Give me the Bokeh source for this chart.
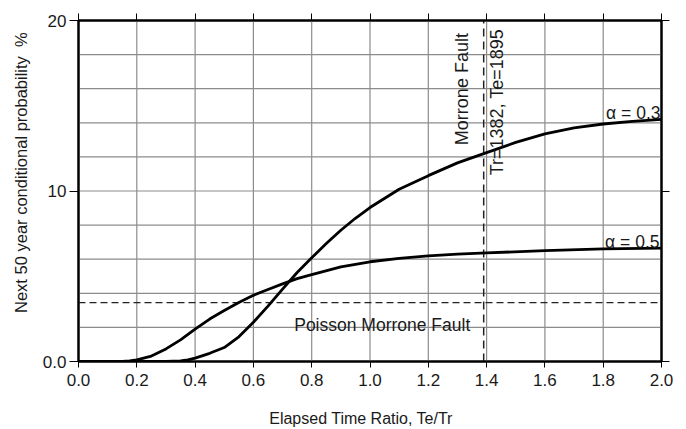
import math
from bokeh.plotting import figure
from bokeh.models import LinearAxis, FixedTicker, Range1d
from bokeh.core.properties import value
from bokeh.embed import file_html
from bokeh.resources import INLINE

# ---- data ----
x_a03 = [0.0, 0.30, 0.35, 0.375, 0.40, 0.45, 0.50, 0.55, 0.60, 0.65, 0.70, 0.75, 0.80,
         0.85, 0.90, 0.95, 1.00, 1.10, 1.20, 1.30, 1.40, 1.50, 1.60, 1.70, 1.80, 1.90, 2.00]
y_a03 = [0.0, 0.0, 0.04, 0.10, 0.20, 0.48, 0.82, 1.45, 2.30, 3.25, 4.25, 5.22, 6.08,
         6.92, 7.70, 8.40, 9.03, 10.10, 10.90, 11.65, 12.25, 12.85, 13.35, 13.70, 13.93, 14.08, 14.20]

x_a05 = [0.0, 0.15, 0.175, 0.20, 0.25, 0.30, 0.35, 0.40, 0.45, 0.50, 0.55, 0.60, 0.65,
         0.70, 0.75, 0.80, 0.90, 1.00, 1.10, 1.20, 1.30, 1.40, 1.60, 1.80, 2.00]
y_a05 = [0.0, 0.0, 0.03, 0.09, 0.32, 0.74, 1.27, 1.90, 2.49, 2.99, 3.46, 3.88, 4.22,
         4.55, 4.86, 5.10, 5.55, 5.85, 6.05, 6.20, 6.30, 6.37, 6.50, 6.60, 6.65]

poisson_level = 3.45
morrone_ratio = 1.39

x_ticks = [0.0, 0.2, 0.4, 0.6, 0.8, 1.0, 1.2, 1.4, 1.6, 1.8, 2.0]
x_tick_labels = ["0.0", "0.2", "0.4", "0.6", "0.8", "1.0", "1.2", "1.4", "1.6", "1.8", "2.0"]
y_ticks = [0, 10, 20]
y_tick_labels = ["0.0", "10", "20"]
y_grid = [0, 2, 4, 6, 8, 10, 12, 14, 16, 18, 20]

X_MIN, X_MAX = 0.0, 2.0
Y_MIN, Y_MAX = 0, 20

FONT = "Liberation Sans"
TXT = "#1a1a1a"
NB = "\u00a0"

p = figure(width=686, height=429, output_backend="svg", toolbar_location=None,
           x_range=Range1d(X_MIN, X_MAX), y_range=Range1d(Y_MIN, Y_MAX),
           min_border_left=78, min_border_right=25, min_border_top=20, min_border_bottom=68,
           x_axis_label="Elapsed Time Ratio, Te/Tr" + NB * 4,
           y_axis_label=NB * 8 + "Next 50 year conditional probability" + NB * 2 + "%")
p.background_fill_color = "white"
p.border_fill_color = "white"
p.outline_line_color = "black"
p.outline_line_width = 2
p.xgrid.visible = False
p.ygrid.visible = False

# grid lines drawn as glyphs
GRID = "#8c8c8c"
p.segment(x0=x_ticks, y0=[Y_MIN] * len(x_ticks), x1=x_ticks, y1=[Y_MAX] * len(x_ticks),
          line_color=GRID, line_width=1.2)
p.segment(x0=[X_MIN] * len(y_grid), y0=y_grid, x1=[X_MAX] * len(y_grid), y1=y_grid,
          line_color=GRID, line_width=1.2)

# bottom axis
xa = p.xaxis[0]
xa.ticker = FixedTicker(ticks=x_ticks)
xa.major_label_overrides = {t: l for t, l in zip(x_ticks, x_tick_labels)}
# left axis
ya = p.yaxis[0]
ya.ticker = FixedTicker(ticks=y_ticks)
ya.major_label_overrides = {t: l for t, l in zip(y_ticks, y_tick_labels)}

for ax in (xa, ya):
    ax.axis_line_color = "black"
    ax.axis_line_width = 2
    ax.major_tick_line_color = "black"
    ax.major_tick_line_width = 1
    ax.major_tick_in = 0
    ax.minor_tick_line_color = None
    ax.major_label_text_font = FONT
    ax.major_label_text_font_size = "17px"
    ax.major_label_text_color = TXT
    ax.axis_label_text_font = FONT
    ax.axis_label_text_font_style = "normal"
    ax.axis_label_text_color = TXT
xa.major_tick_out = 6
xa.major_label_standoff = 6
xa.axis_label_text_font_size = "16px"
xa.axis_label_standoff = 21
ya.major_tick_out = 9
ya.major_label_standoff = 3
ya.axis_label_text_font_size = "16.5px"
ya.axis_label_standoff = 10

# top and right tick-only axes
top = LinearAxis(ticker=FixedTicker(ticks=x_ticks))
right = LinearAxis(ticker=FixedTicker(ticks=y_ticks))
for ax, out in ((top, 7), (right, 8)):
    ax.axis_line_color = "black"
    ax.axis_line_width = 2
    ax.major_tick_line_color = "black"
    ax.major_tick_in = 0
    ax.major_tick_out = out
    ax.minor_tick_line_color = None
    ax.major_label_text_font_size = "0px"
    ax.major_label_standoff = 0
    ax.major_label_overrides = {t: "" for t in ax.ticker.ticks}
p.add_layout(top, "above")
p.add_layout(right, "right")

# reference lines
p.line([morrone_ratio, morrone_ratio], [Y_MIN, Y_MAX], line_color="#222222", line_width=1.5, line_dash="8 5")
p.line([X_MIN, X_MAX], [poisson_level, poisson_level], line_color="#222222", line_width=1.3, line_dash="7 4")

# curves
p.line(x_a03, y_a03, line_color="black", line_width=2.8, line_join="round")
p.line(x_a05, y_a05, line_color="black", line_width=2.8, line_join="round")

# labels
def lbl(x, y, t, align="left", baseline="alphabetic", angle=0.0, xo=0, yo=0, size="18px"):
    p.text(x=[x], y=[y], text=[t], angle=angle, x_offset=xo, y_offset=yo,
           text_font=value(FONT), text_font_size=size, text_color=TXT,
           text_align=align, text_baseline=baseline)

lbl(2.0, 14.6, "\u03b1 = 0.3", align="right", xo=-1, size="17.5px")
lbl(2.0, 7.0, "\u03b1 = 0.5", align="right", xo=-2, size="17.5px")
lbl(0.74, 2.14, "Poisson Morrone Fault", size="17.5px")
lbl(1.315, 12.69, "Morrone Fault", baseline="middle", angle=math.pi / 2)
lbl(1.437, 10.92, "Tr=1382, Te=1895", baseline="middle", angle=math.pi / 2)

open("out.html", "w").write(file_html(p, INLINE))
